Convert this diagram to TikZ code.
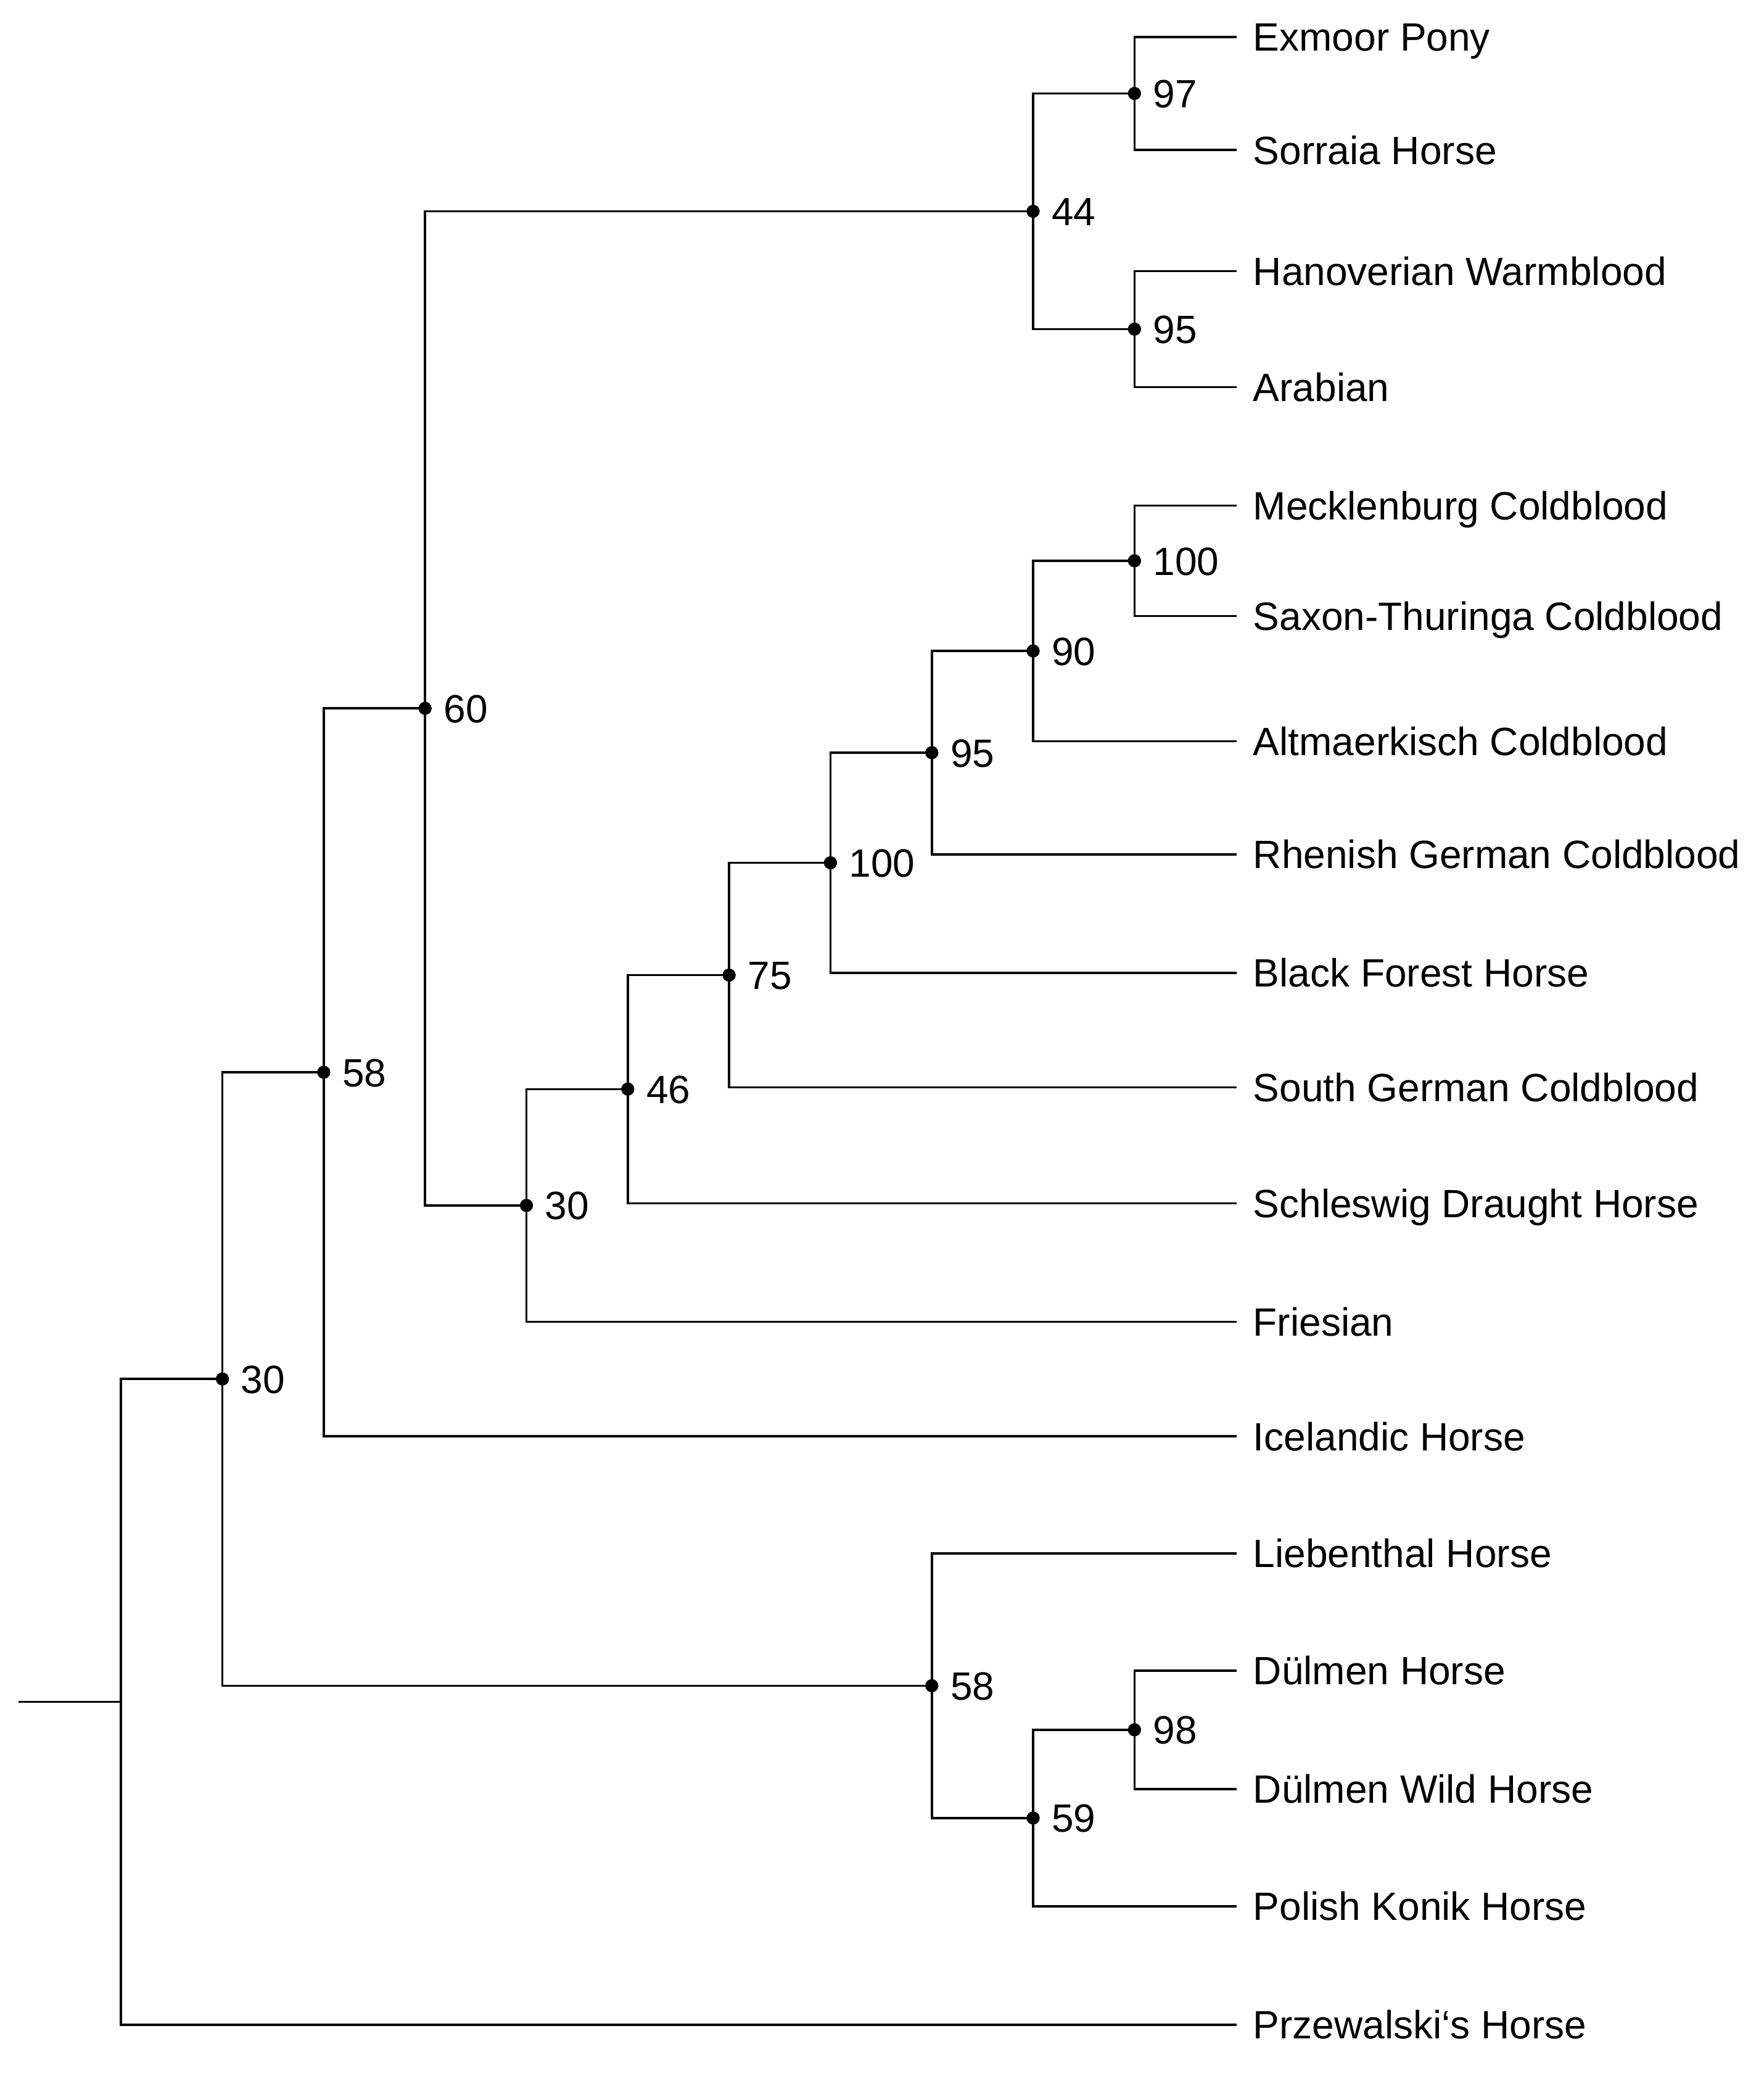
\documentclass[tikz,border=0pt]{standalone}
\usepackage{fontspec}
\setmainfont{Liberation Sans}
\begin{document}
\begin{tikzpicture}[x=1pt,y=-1pt,
  branch/.style={line width=1.7pt, line cap=rect},
  txt/.style={inner sep=0pt, anchor=base west, yshift=-10.8pt, font=\fontsize{30}{36}\selectfont},
  dotmark/.style={circle, fill=black, inner sep=0pt, minimum size=10pt}]
\useasboundingbox (0,0) rectangle (1340,1577);
% leaf tips
\coordinate (l1) at (939,28);
\coordinate (l2) at (939,114);
\coordinate (l3) at (939,206);
\coordinate (l4) at (939,294);
\coordinate (l5) at (939,384);
\coordinate (l6) at (939,468);
\coordinate (l7) at (939,563);
\coordinate (l8) at (939,649);
\coordinate (l9) at (939,739);
\coordinate (l10) at (939,826);
\coordinate (l11) at (939,914);
\coordinate (l12) at (939,1004);
\coordinate (l13) at (939,1091);
\coordinate (l14) at (939,1180);
\coordinate (l15) at (939,1269);
\coordinate (l16) at (939,1359);
\coordinate (l17) at (939,1448);
\coordinate (l18) at (939,1538);
% internal nodes
\coordinate (n97) at (862,71);
\coordinate (n95a) at (862,250);
\coordinate (n44) at (785,160.5);
\coordinate (n100a) at (862,426);
\coordinate (n90) at (785,494.5);
\coordinate (n95b) at (708,571.75);
\coordinate (n100b) at (631,655.4);
\coordinate (n75) at (554,740.7);
\coordinate (n46) at (477,827.3);
\coordinate (n30a) at (400,915.7);
\coordinate (n60) at (323,538.1);
\coordinate (n58a) at (246,814.5);
\coordinate (n98) at (862,1314);
\coordinate (n59) at (785,1381);
\coordinate (n58b) at (708,1280.5);
\coordinate (n30b) at (169,1047.5);
\coordinate (root) at (92,1292.75);
\coordinate (stem) at (15,1292.75);
% branches
\draw[branch] (stem) -- (root);
\draw[branch] (root) |- (n30b);
\draw[branch] (root) |- (l18);
\draw[branch] (n30b) |- (n58a);
\draw[branch] (n30b) |- (n58b);
\draw[branch] (n58a) |- (n60);
\draw[branch] (n58a) |- (l13);
\draw[branch] (n60) |- (n44);
\draw[branch] (n60) |- (n30a);
\draw[branch] (n44) |- (n97);
\draw[branch] (n44) |- (n95a);
\draw[branch] (n97) |- (l1);
\draw[branch] (n97) |- (l2);
\draw[branch] (n95a) |- (l3);
\draw[branch] (n95a) |- (l4);
\draw[branch] (n30a) |- (n46);
\draw[branch] (n30a) |- (l12);
\draw[branch] (n46) |- (n75);
\draw[branch] (n46) |- (l11);
\draw[branch] (n75) |- (n100b);
\draw[branch] (n75) |- (l10);
\draw[branch] (n100b) |- (n95b);
\draw[branch] (n100b) |- (l9);
\draw[branch] (n95b) |- (n90);
\draw[branch] (n95b) |- (l8);
\draw[branch] (n90) |- (n100a);
\draw[branch] (n90) |- (l7);
\draw[branch] (n100a) |- (l5);
\draw[branch] (n100a) |- (l6);
\draw[branch] (n58b) |- (l14);
\draw[branch] (n58b) |- (n59);
\draw[branch] (n59) |- (n98);
\draw[branch] (n59) |- (l17);
\draw[branch] (n98) |- (l15);
\draw[branch] (n98) |- (l16);
% dots and support values
\foreach \n/\v in {n97/97,n95a/95,n44/44,n100a/100,n90/90,n95b/95,n100b/100,n75/75,n46/46,n30a/30,n60/60,n58a/58,n98/98,n59/59,n58b/58,n30b/30}{
  \node[dotmark] (d\n) at (\n) {};
  \node[txt, xshift=14pt] (v\n) at (\n) {\v};
}
% leaf labels
\foreach \l/\t in {l1/Exmoor Pony,l2/Sorraia Horse,l3/Hanoverian Warmblood,l4/Arabian,l5/Mecklenburg Coldblood,l6/Saxon-Thuringa Coldblood,l7/Altmaerkisch Coldblood,l8/Rhenish German Coldblood,l9/Black Forest Horse,l10/South German Coldblood,l11/Schleswig Draught Horse,l12/Friesian,l13/Icelandic Horse,l14/Liebenthal Horse,l15/Dülmen Horse,l16/Dülmen Wild Horse,l17/Polish Konik Horse,l18/Przewalski‘s Horse}{
  \node[txt, xshift=13pt] (t\l) at (\l) {\t};
}
\end{tikzpicture}
\end{document}
